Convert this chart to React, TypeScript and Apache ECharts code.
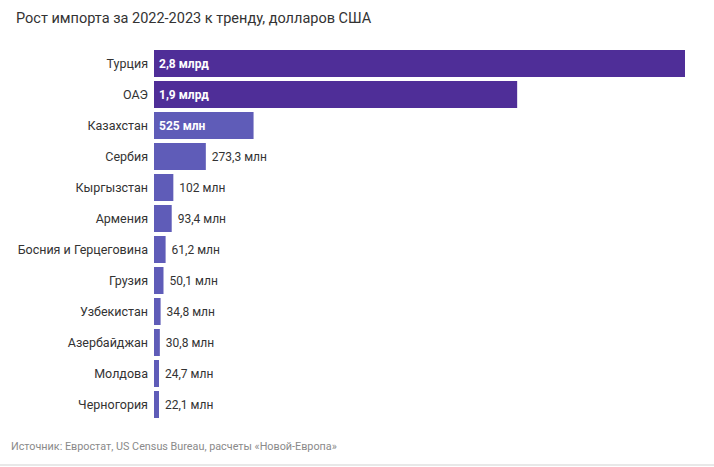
import React, { useEffect, useRef } from "react";
import * as echarts from "echarts";

const categories = [
  "Турция",
  "ОАЭ",
  "Казахстан",
  "Сербия",
  "Кыргызстан",
  "Армения",
  "Босния и Герцеговина",
  "Грузия",
  "Узбекистан",
  "Азербайджан",
  "Молдова",
  "Черногория",
];
const values = [2800, 1915, 525, 273.3, 102, 93.4, 61.2, 50.1, 34.8, 30.8, 24.7, 22.1];
const valueLabels = [
  "2,8 млрд",
  "1,9 млрд",
  "525 млн",
  "273,3 млн",
  "102 млн",
  "93,4 млн",
  "61,2 млн",
  "50,1 млн",
  "34,8 млн",
  "30,8 млн",
  "24,7 млн",
  "22,1 млн",
];

const TITLE = "Рост импорта за 2022-2023 к тренду, долларов США";
const SOURCE = "Источник: Евростат, US Census Bureau, расчеты «Новой-Европа»";

const DARK = "#4f2e98";
const LIGHT = "#5f5cb8";

export default function App() {
  const ref = useRef<HTMLDivElement>(null);
  useEffect(() => {
    document.body.style.margin = "0";
    const chart = echarts.init(ref.current!, null, { renderer: "svg" });
    const data = values.map((v, i) => {
      const inside = i < 3;
      return {
        value: v,
        itemStyle: { color: i < 2 ? DARK : LIGHT },
        label: inside
          ? {
              show: true,
              position: "insideLeft",
              distance: 5,
              color: "#ffffff",
              fontWeight: "bold",
              fontSize: 12,
              fontFamily: "Roboto",
              formatter: () => valueLabels[i],
            }
          : {
              show: true,
              position: "right",
              distance: 6,
              color: "#333333",
              fontSize: 12,
              fontFamily: "Roboto",
              formatter: () => valueLabels[i],
            },
      };
    });
    chart.setOption({
      animation: false,
      backgroundColor: "#ffffff",
      textStyle: { fontFamily: "Roboto" },
      title: {
        text: TITLE,
        left: 11,
        top: 6,
        textStyle: { fontSize: 14.5, fontWeight: "normal", color: "#333333", fontFamily: "Roboto" },
      },
      grid: { left: 154, right: 29, top: 48, height: 372, containLabel: false },
      xAxis: {
        type: "value",
        min: 0,
        max: 2800,
        show: false,
      },
      yAxis: {
        type: "category",
        data: categories,
        inverse: true,
        axisLine: { show: false },
        axisTick: { show: false },
        axisLabel: { color: "#333333", fontSize: 12.5, fontFamily: "Roboto", margin: 6 },
      },
      series: [
        {
          type: "bar",
          data,
          barWidth: 27,
          barMinHeight: 5,
        },
      ],
      graphic: [
        {
          type: "text",
          left: 11,
          top: 441,
          style: { text: SOURCE, fontSize: 10.8, fill: "#8a8a8a", fontFamily: "Roboto" },
        },
        {
          type: "rect",
          left: 0,
          top: 464,
          shape: { width: 714, height: 2 },
          style: { fill: "#e8e8e8" },
        },
      ],
    });
    return () => chart.dispose();
  }, []);
  return <div ref={ref} style={{ width: 714, height: 467 }} />;
}
